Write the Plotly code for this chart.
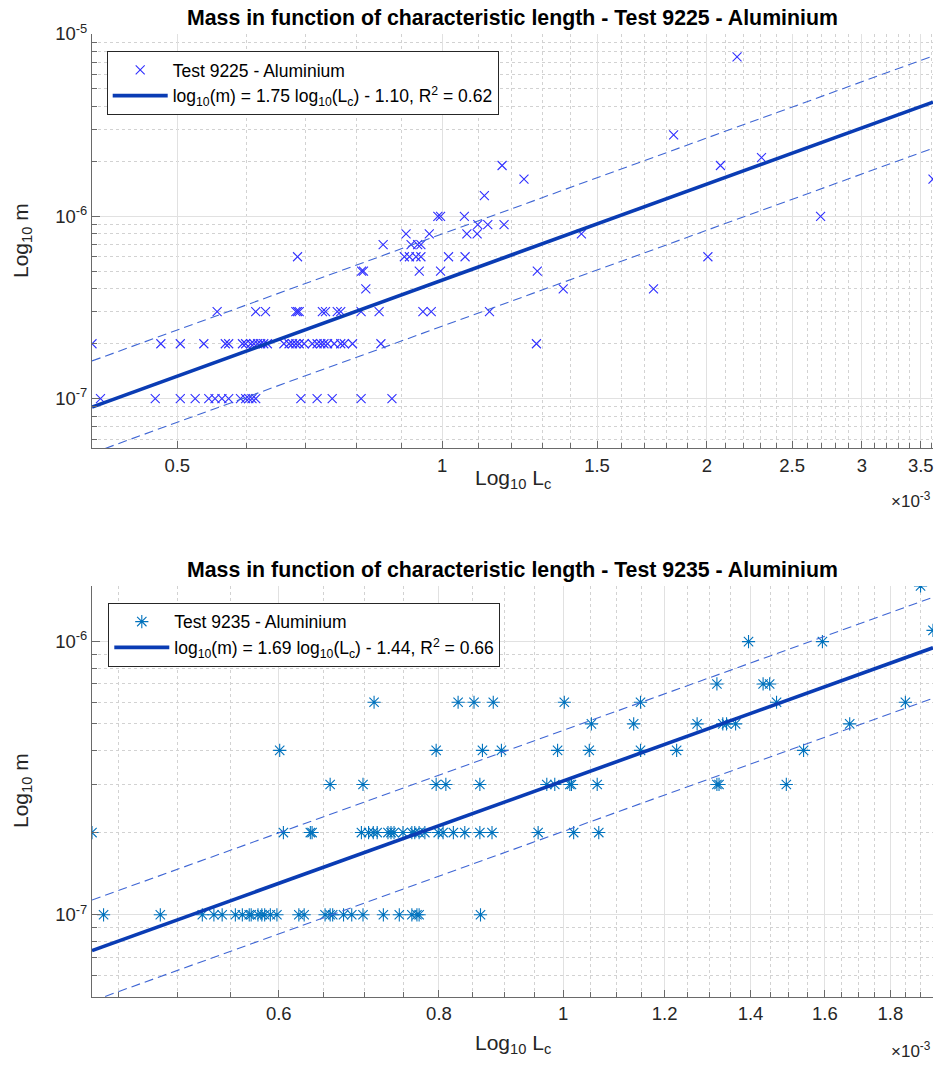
import numpy as np
import plotly.graph_objects as go

# ---------------- data (Lc in units of 1e-3 m, m in kg) ----------------
m_levels_9225 = [1e-7, 2e-7, 3e-7, 4e-7, 5e-7, 6e-7, 7e-7, 8e-7, 9e-7, 1e-6,
                 1.3e-6, 1.6e-6, 1.9e-6, 2.1e-6, 2.8e-6, 7.5e-6]
lc_groups_9225 = [
    [0.409, 0.472, 0.504, 0.524, 0.543, 0.552, 0.562, 0.572, 0.590, 0.598, 0.603,
     0.608, 0.614, 0.691, 0.721, 0.750, 0.809, 0.877],
    [0.400, 0.479, 0.504, 0.536, 0.567, 0.572, 0.593, 0.598, 0.606, 0.611, 0.617,
     0.622, 0.627, 0.633, 0.661, 0.670, 0.676, 0.682, 0.688, 0.697, 0.712, 0.721,
     0.728, 0.734, 0.741, 0.754, 0.767, 0.774, 0.791, 0.852, 1.280],
    [0.555, 0.614, 0.630, 0.682, 0.685, 0.688, 0.731, 0.737, 0.760, 0.767, 0.809,
     0.848, 0.951, 0.972, 1.132],
    [0.819, 1.373, 1.739],
    [0.810, 0.814, 0.942, 0.996, 1.283],
    [0.685, 0.906, 0.918, 0.934, 0.946, 1.017, 1.062, 2.005],
    [0.857, 0.922, 0.938, 0.946],
    [0.910, 0.967, 1.067, 1.096, 1.440],
    [1.098, 1.127, 1.176],
    [0.989, 0.996, 1.060, 2.693],
    [1.117],
    [1.239, 3.614],
    [1.170, 2.072],
    [2.307],
    [1.833],
    [2.164],
]

m_levels_9235 = [1e-7, 2e-7, 3e-7, 4e-7, 5e-7, 6e-7, 7e-7, 1e-6, 1.1e-6, 1.6e-6]
lc_groups_9235 = [
    [0.438, 0.485, 0.523, 0.534, 0.542, 0.555, 0.562, 0.569, 0.571, 0.578, 0.582,
     0.585, 0.591, 0.598, 0.622, 0.628, 0.652, 0.658, 0.661, 0.674, 0.684, 0.698,
     0.724, 0.745, 0.762, 0.769, 0.772, 0.862],
    [0.429, 0.605, 0.635, 0.637, 0.696, 0.705, 0.711, 0.716, 0.730, 0.734, 0.738,
     0.750, 0.762, 0.766, 0.772, 0.780, 0.799, 0.806, 0.821, 0.838, 0.861, 0.880,
     0.956, 1.019, 1.066],
    [0.658, 0.698, 0.796, 0.810, 0.861, 0.971, 0.985, 1.012, 1.015, 1.063, 1.318,
     1.323, 1.493],
    [0.601, 0.796, 0.865, 0.895, 0.990, 1.048, 1.149, 1.226, 1.540],
    [1.052, 1.135, 1.272, 1.332, 1.341, 1.363, 1.673],
    [0.712, 0.828, 0.852, 0.882, 1.002, 1.149, 1.467, 1.849],
    [1.318, 1.432, 1.449],
    [1.395, 1.593],
    [1.943],
    [1.900],
]

# fit: log10(m) = slope*log10(Lc) + intercept, dashed band +/- half-width (log10)
fit_9225 = dict(slope=1.75, intercept=-1.10, r2=0.62, band=0.253)
fit_9235 = dict(slope=1.69, intercept=-1.44, r2=0.66, band=0.185)

# y limits (log10)
ylim_9225 = [-7.2725, -5.0]
ylim_9235 = [-7.301, np.log10(1.6e-6)]

# ticks
xt_9225 = [0.5, 1, 1.5, 2, 2.5, 3, 3.5]
xt_9225_text = ["0.5", "1", "1.5", "2", "2.5", "3", "3.5"]
xt_9235 = [0.6, 0.8, 1, 1.2, 1.4, 1.6, 1.8]
xt_9235_text = ["0.6", "0.8", "1", "1.2", "1.4", "1.6", "1.8"]
yt_9225 = [1e-7, 1e-6, 1e-5]
yt_9225_text = ["10<sup>-7</sup>", "10<sup>-6</sup>", "10<sup>-5</sup>"]
yt_9235 = [1e-7, 1e-6]
yt_9235_text = ["10<sup>-7</sup>", "10<sup>-6</sup>"]


def flatten(levels, groups):
    xs, ys = [], []
    for m, g in zip(levels, groups):
        for v in g:
            xs.append(v * 1e-3)
            ys.append(m)
    return np.array(xs), np.array(ys)


x1, y1 = flatten(m_levels_9225, lc_groups_9225)
x2, y2 = flatten(m_levels_9235, lc_groups_9235)

FONT = "Liberation Sans, Arial, Helvetica, sans-serif"
LINE_C = "#0a3cb4"
BAND_C = "#3f66d4"
GRID_C = "#e1e1e1"
MINOR_C = "#d2d2d2"
AX_C = "#6a6a6a"
TXT_C = "#262626"
TICK_FS = 18.5
LABEL_FS = 21
TITLE_FS = 21.3
LEG_FS = 17.5

fig = go.Figure()


def add_series(x, y, fit, xa, ya, legend, name, symbol, color, size):
    fig.add_trace(go.Scatter(
        x=x, y=y, mode="markers", name=name, xaxis=xa, yaxis=ya, legend=legend,
        marker=dict(symbol=symbol, size=size, color=color,
                    line=dict(color=color, width=1.1))))
    lx = np.array([x.min(), x.max()])
    ly = fit["slope"] * np.log10(lx) + fit["intercept"]
    for off in (fit["band"], -fit["band"]):
        fig.add_trace(go.Scatter(
            x=lx, y=10 ** (ly + off), mode="lines", showlegend=False,
            xaxis=xa, yaxis=ya, line=dict(color=BAND_C, width=1.1, dash="9px,5px")))
    label = ("log<sub>10</sub>(m) = %.2f log<sub>10</sub>(L<sub>c</sub>) - %.2f, R<sup>2</sup> = %.2f"
             % (fit["slope"], -fit["intercept"], fit["r2"]))
    fig.add_trace(go.Scatter(
        x=lx, y=10 ** ly, mode="lines", name=label, xaxis=xa, yaxis=ya, legend=legend,
        line=dict(color=LINE_C, width=3.6)))


add_series(x1, y1, fit_9225, "x", "y", "legend", "Test 9225 - Aluminium",
           "x-thin-open", "#3030ff", 9)
add_series(x2, y2, fit_9235, "x2", "y2", "legend2", "Test 9235 - Aluminium",
           "asterisk-open", "#0072bd", 11)


def minor_vals(lo, hi, step, majors):
    vals = []
    v = lo
    while v <= hi + 1e-9:
        if all(abs(v - mj) > 1e-6 for mj in majors):
            vals.append(round(v, 4) * 1e-3)
        v += step
    return vals


def y_minor(dec_lo, dec_hi):
    out = []
    for d in range(dec_lo, dec_hi + 1):
        for k in range(2, 10):
            out.append(k * 10.0 ** d)
    return out


PLOT_L, PLOT_R, PLOT_T, PLOT_B = 92, 7, 34, 69
H = 1066
ph = H - PLOT_T - PLOT_B


def py(pix):
    return (H - PLOT_B - pix) / ph


def px(pix):
    return (pix - PLOT_L) / (940 - PLOT_L - PLOT_R)


common_x = dict(type="log", showline=True, linecolor=AX_C, linewidth=1, mirror=False,
                ticks="inside", ticklen=7, tickcolor=AX_C, showgrid=True, gridcolor=GRID_C,
                gridwidth=1, zeroline=False,
                tickfont=dict(family=FONT, size=TICK_FS, color=TXT_C),
                automargin=False)
common_y = dict(common_x)

fig.update_layout(
    width=940, height=H, plot_bgcolor="white", paper_bgcolor="white",
    margin=dict(l=PLOT_L, r=PLOT_R, t=PLOT_T, b=PLOT_B),
    font=dict(family=FONT, color=TXT_C),
    xaxis=dict(common_x, domain=[0, 1], anchor="y",
               range=[np.log10(x1.min()), np.log10(x1.max())],
               tickvals=[v * 1e-3 for v in xt_9225], ticktext=xt_9225_text,
               minor=dict(tickvals=minor_vals(0.4, 3.6, 0.1, xt_9225), ticks="inside",
                          ticklen=5, tickcolor=AX_C, showgrid=True, gridcolor=MINOR_C,
                          griddash="dot")),
    yaxis=dict(common_y, domain=[py(448.3), 1], anchor="x", range=ylim_9225,
               tickvals=yt_9225, ticktext=yt_9225_text, ticklen=8,
               minor=dict(tickvals=y_minor(-8, -6), ticks="inside", ticklen=5,
                          tickcolor=AX_C, showgrid=True, gridcolor=MINOR_C, griddash="dot")),
    xaxis2=dict(common_x, domain=[0, 1], anchor="y2",
                range=[np.log10(x2.min()), np.log10(x2.max())],
                tickvals=[v * 1e-3 for v in xt_9235], ticktext=xt_9235_text,
                minor=dict(tickvals=minor_vals(0.45, 1.95, 0.05, xt_9235), ticks="inside",
                           ticklen=5, tickcolor=AX_C, showgrid=True, gridcolor=MINOR_C,
                           griddash="dot")),
    yaxis2=dict(common_y, domain=[0, py(585.9)], anchor="x2", range=ylim_9235,
                tickvals=yt_9235, ticktext=yt_9235_text, ticklen=8,
                minor=dict(tickvals=y_minor(-8, -6), ticks="inside", ticklen=5,
                           tickcolor=AX_C, showgrid=True, gridcolor=MINOR_C, griddash="dot")),
    legend=dict(x=px(106.7), y=py(51), xanchor="left", yanchor="top",
                bgcolor="white", bordercolor="#262626", borderwidth=1, itemwidth=55,
                font=dict(family=FONT, size=LEG_FS, color="black")),
    legend2=dict(x=px(108.3), y=py(602.7), xanchor="left", yanchor="top",
                 bgcolor="white", bordercolor="#262626", borderwidth=1, itemwidth=55,
                 font=dict(family=FONT, size=LEG_FS, color="black")),
    showlegend=True,
)

ann = []
for title, ypix in (("Mass in function of characteristic length - Test 9225 - Aluminium", 18),
                    ("Mass in function of characteristic length - Test 9235 - Aluminium", 570)):
    ann.append(dict(text="<b>%s</b>" % title, x=0.5, y=py(ypix), xref="paper", yref="paper",
                    xanchor="center", yanchor="middle", showarrow=False,
                    font=dict(family=FONT, size=TITLE_FS, color="black")))
for ypix in (479, 1044):
    ann.append(dict(text="Log<sub>10</sub> L<sub>c</sub>", x=0.5, y=py(ypix), xref="paper",
                    yref="paper", xanchor="center", yanchor="middle", showarrow=False,
                    font=dict(family=FONT, size=LABEL_FS, color=TXT_C)))
for ypix in (241, 791):
    ann.append(dict(text="Log<sub>10</sub> m", x=px(22), y=py(ypix), xref="paper",
                    yref="paper", xanchor="center", yanchor="middle", textangle=-90,
                    showarrow=False, font=dict(family=FONT, size=LABEL_FS, color=TXT_C)))
for ypix in (500, 1050):
    ann.append(dict(text="\u00d710<sup>-3</sup>", x=1.0, y=py(ypix), xref="paper",
                    yref="paper", xanchor="right", yanchor="middle", showarrow=False,
                    font=dict(family=FONT, size=17, color=TXT_C)))
fig.update_layout(annotations=ann)

fig.write_html("out.html", config={"displayModeBar": False},
               post_script="document.body.style.margin='0';document.body.style.padding='0';")
